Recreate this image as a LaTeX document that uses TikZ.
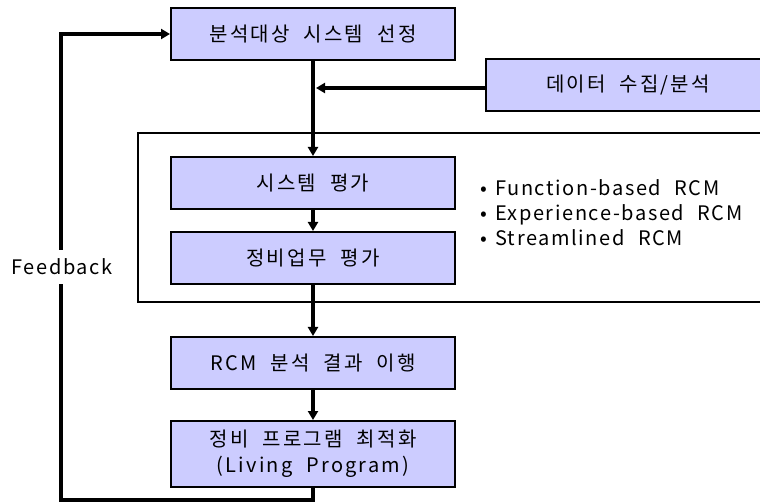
\documentclass[tikz,border=0pt]{standalone}
\usepackage{fontspec}
\setmainfont[LetterSpace=11, WordSpace=2.1]{Noto Sans CJK KR}
\newfontfamily\notefont[LetterSpace=8, WordSpace=2.2]{Noto Sans CJK KR}
\usepackage{tikz}
\usetikzlibrary{arrows.meta, positioning}
\definecolor{rcmBox}{RGB}{204, 204, 255}

\begin{document}
\begin{tikzpicture}[
    x=1pt, y=-1pt,
    node distance=20pt,
    block/.style={
        rectangle,
        draw=black,
        line width=2pt,
        fill=rcmBox,
        minimum width=284pt,
        minimum height=52pt,
        inner sep=0pt,
        align=center,
        font=\fontsize{20}{26}\selectfont
    },
    flow/.style={-{Triangle[length=9pt, width=10pt]}, line width=3.2pt}
]
    \useasboundingbox (0,0) rectangle (760,502);
    \clip (0,0) rectangle (760,502);

    % process frame
    \draw[line width=2pt] (138,133) rectangle (800,302);

    \node[block] (select) at (313,34) {분석대상 시스템 선정};
    \node[block] (data) at (628,85) {데이터 수집/분석};
    \node[block, below=95pt of select] (system) {시스템 평가};
    \node[block, below=21pt of system] (task) {정비업무 평가};
    \node[block, below=51pt of task] (result) {RCM 분석 결과 이행};
    \node[block, minimum height=66pt, below=30pt of result] (program) {정비 프로그램 최적화\\(Living Program)};

    \node[anchor=west, align=left, inner sep=0pt, font=\notefont\fontsize{20}{25}\selectfont] (methods) at (480,213)
        {•\hspace{8pt}Function-based RCM\\•\hspace{8pt}Experience-based RCM\\•\hspace{8pt}Streamlined RCM};

    \coordinate (join) at (316,88);
    \coordinate (corner) at (61,500);

    \draw[flow] (select) -- (system);
    \draw[flow] (data.west |- join) -- (join);
    \draw[flow] (system) -- (task);
    \draw[flow] (task) -- (result);
    \draw[flow] (result) -- (program);
    \draw[flow] (program.south) |- (corner) |- (select.west);

    \node[fill=white, inner xsep=1pt, inner ysep=9pt, font=\notefont\fontsize{20}{24}\selectfont] (feedback) at (62,267) {Feedback};
\end{tikzpicture}
\end{document}
